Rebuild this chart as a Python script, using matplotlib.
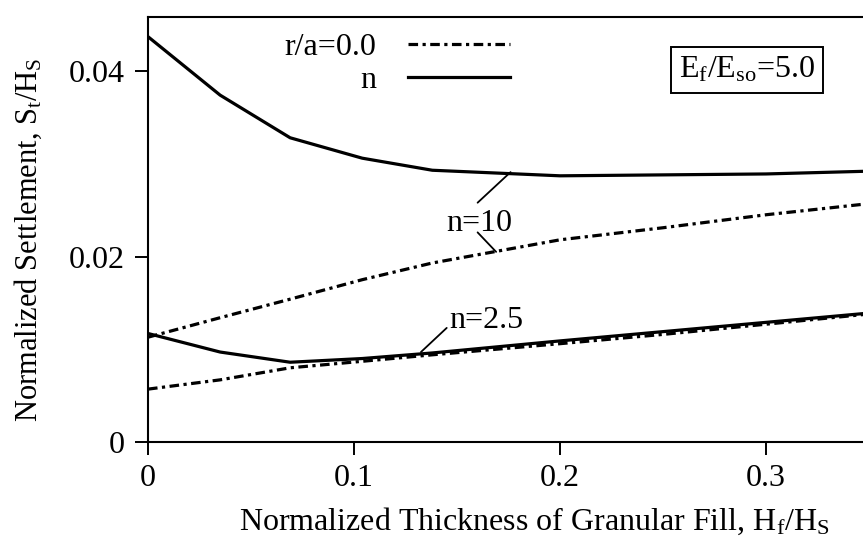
import matplotlib
matplotlib.use("Agg")
import matplotlib.pyplot as plt

plt.rcParams["font.family"] = "Liberation Serif"
plt.rcParams["mathtext.fontset"] = "custom"
plt.rcParams["mathtext.rm"] = "Liberation Serif"
plt.rcParams["mathtext.it"] = "Liberation Serif:italic"

# ---- data ----
x = [0, 0.035, 0.069, 0.104, 0.138, 0.2, 0.25, 0.3, 0.35]
n10_solid = [0.0437, 0.0374, 0.0328, 0.0306, 0.0293, 0.0287, 0.0288, 0.0289, 0.0292]
n10_dashdot = [0.0113, 0.0134, 0.0154, 0.0175, 0.0193, 0.0218, 0.0231, 0.0245, 0.0257]
n25_solid = [0.0117, 0.0097, 0.0086, 0.0090, 0.0096, 0.0109, 0.0119, 0.0129, 0.0139]
n25_dashdot = [0.0057, 0.0067, 0.0080, 0.0087, 0.0094, 0.0106, 0.0116, 0.0127, 0.0138]

xticks = [0, 0.1, 0.2, 0.3]
xtick_labels = ["0", "0.1", "0.2", "0.3"]
yticks = [0, 0.02, 0.04]
ytick_labels = ["0", "0.02", "0.04"]

FS = 23
W, H = 863, 540
fig = plt.figure(figsize=(W / 100, H / 100), dpi=100)
ax = fig.add_axes([148 / W, 98 / H, 715 / W, 425 / H])

dashdot = (0, (3, 1.4, 1, 1.4))
l_dd, = ax.plot(x, n10_dashdot, color="black", lw=2.3, linestyle=dashdot)
ax.plot(x, n25_dashdot, color="black", lw=2.3, linestyle=dashdot)
l_s, = ax.plot(x, n10_solid, color="black", lw=2.3)
ax.plot(x, n25_solid, color="black", lw=2.3)

ax.set_xlim(0, 715 / 2060)
ax.set_ylim(0, 425 / 9275)

ax.set_xticks(xticks)
ax.set_xticklabels(xtick_labels)
ax.set_yticks(yticks)
ax.set_yticklabels(ytick_labels)
ax.tick_params(direction="out", length=9.5, width=1.4, labelsize=FS)
ax.tick_params(axis="x", pad=6)
ax.tick_params(axis="y", pad=7)

ax.spines["right"].set_visible(False)
for s in ["left", "bottom", "top"]:
    ax.spines[s].set_linewidth(1.5)

ax.set_xlabel(r"Normalized Thickness of Granular Fill, H$_\mathrm{f}$/H$_\mathrm{S}$",
              fontsize=FS, labelpad=9)
ax.set_ylabel(r"Normalized Settlement, S$_\mathrm{t}$/H$_\mathrm{S}$",
              fontsize=22, labelpad=15)
ax.xaxis.set_label_coords(0.54, -0.15)
ax.yaxis.set_label_coords(-0.145, 0.475)

# curve labels and leader lines
lead = dict(arrowstyle="-", lw=1.3, color="black", shrinkA=0, shrinkB=0)
ax.text(0.161, 0.0236, "n=10", fontsize=FS, ha="center", va="center")
ax.annotate("", xy=(0.176, 0.0291), xytext=(0.160, 0.0258), arrowprops=lead)
ax.annotate("", xy=(0.169, 0.0205), xytext=(0.160, 0.0226), arrowprops=lead)
ax.text(0.164, 0.0131, "n=2.5", fontsize=FS, ha="center", va="center")
ax.annotate("", xy=(0.1325, 0.0097), xytext=(0.145, 0.0123), arrowprops=lead)

# legend
leg = ax.legend([l_dd, l_s], ["r/a=0.0", "n"], loc="center",
                bbox_to_anchor=(397 / W, 1 - 64 / H), bbox_transform=fig.transFigure,
                frameon=False, markerfirst=False, fontsize=FS, handlelength=3.2,
                handletextpad=1.0, labelspacing=0.1, borderpad=0)
for t in leg.get_texts():
    t.set_ha("right")

ax.text(747 / W, 1 - 70 / H, r"E$_\mathrm{f}$/E$_\mathrm{so}$=5.0", transform=fig.transFigure,
        fontsize=FS, ha="center", va="center",
        bbox=dict(boxstyle="square,pad=0.25", fc="white", ec="black", lw=1.4))

fig.savefig("out.png", dpi=100)
